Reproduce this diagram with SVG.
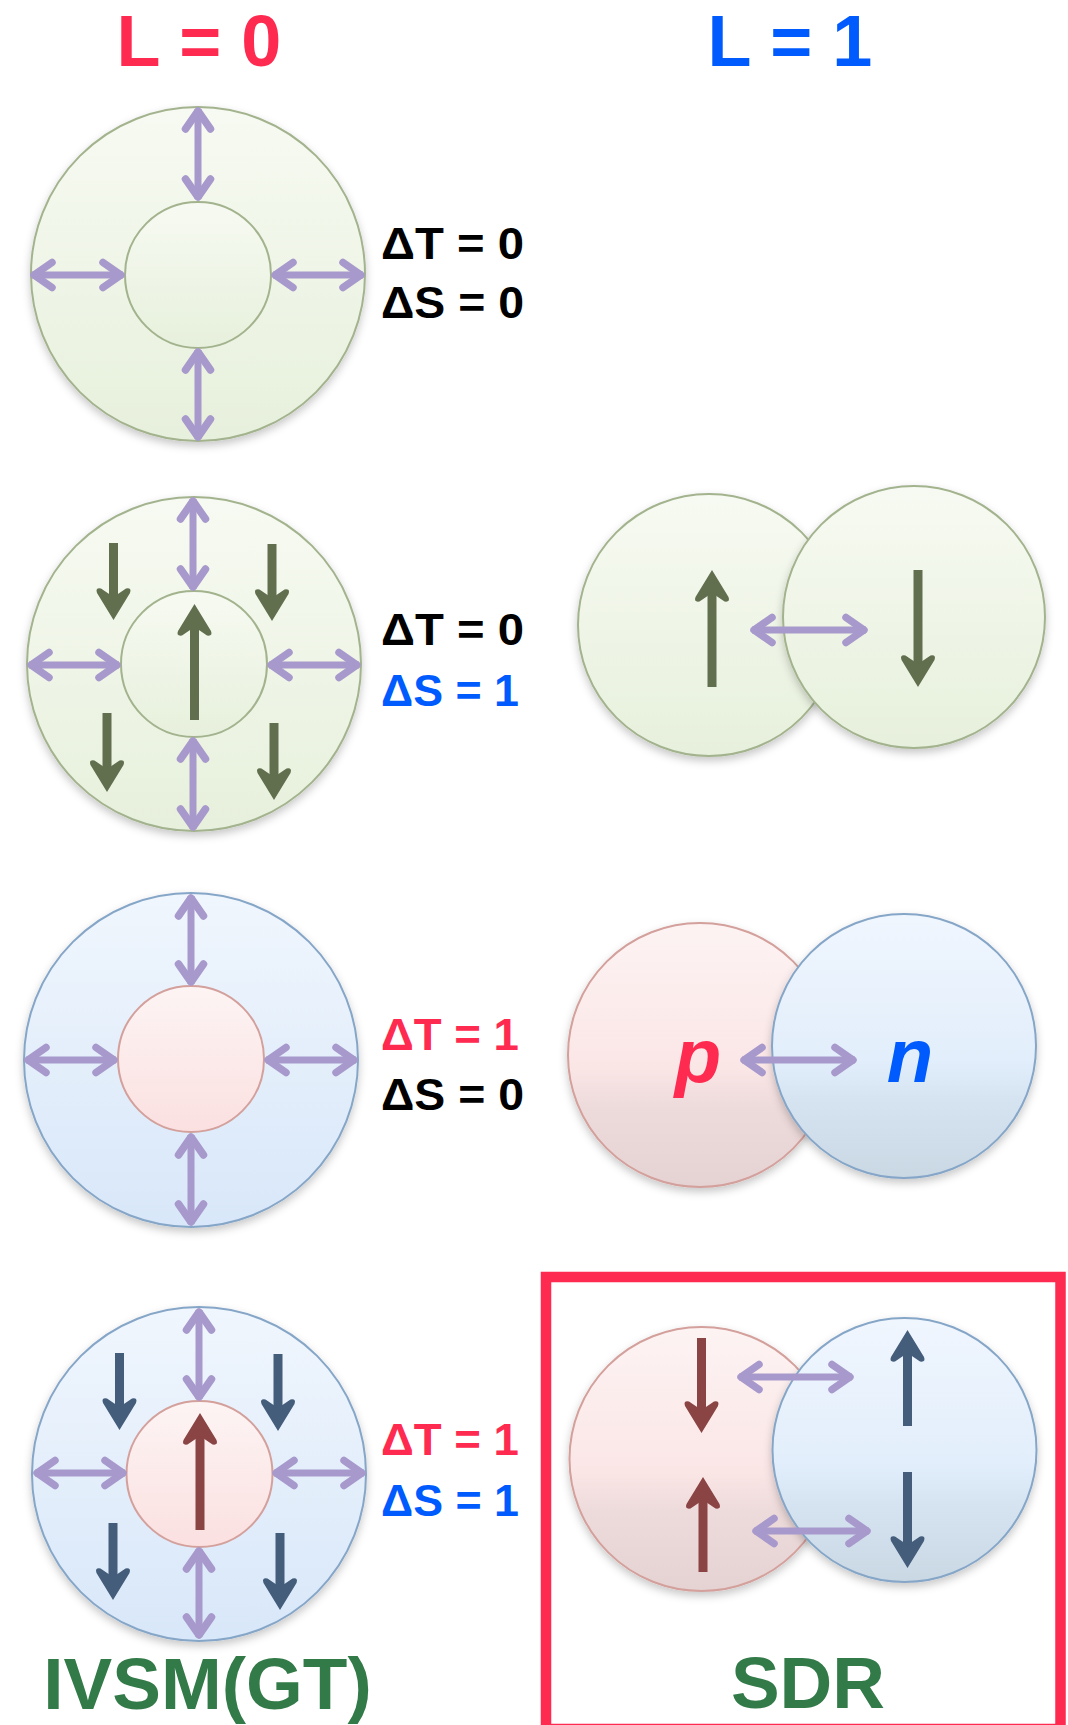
<svg xmlns="http://www.w3.org/2000/svg" xmlns:xlink="http://www.w3.org/1999/xlink" width="1068" height="1725" viewBox="0 0 1068 1725">
<style>
.hdr{font-family:"Liberation Sans",Arial,sans-serif;font-weight:bold;font-size:72px;text-anchor:middle}
.lbl{font-family:"Liberation Sans",Arial,sans-serif;font-weight:bold;font-size:45px}
.ttl{font-family:"Liberation Sans",Arial,sans-serif;font-weight:bold;font-size:73px;text-anchor:middle;fill:#327A48}
.pn{font-family:"Liberation Sans",Arial,sans-serif;font-weight:bold;font-style:italic;font-size:76px;text-anchor:middle}
.k{fill:#000}.r{fill:#FF2A50}.b{fill:#005BFF}
.green{fill:url(#gGreen);stroke:#A3B38E;stroke-width:2}
.blue{fill:url(#gBlue);stroke:#86A6C8;stroke-width:2}
.pink{fill:url(#gPink);stroke:#D3A09C;stroke-width:2}
.blue2{fill:url(#gBlue2);stroke:#86A6C8;stroke-width:2}
.pink2{fill:url(#gPink2);stroke:#D3A09C;stroke-width:2}
.sh{filter:url(#shadow)}
.pu{stroke:#A899CC;stroke-width:7;fill:none;marker-start:url(#chev);marker-end:url(#chev)}
.sg{stroke:#626F4F;stroke-width:9;fill:none}
.sb{stroke:#445D7B;stroke-width:9;fill:none}
.sr{stroke:#8A4444;stroke-width:9;fill:none}
</style>
<defs>
<linearGradient id="gGreen" x1="0" y1="0" x2="0" y2="1"><stop offset="0" stop-color="#F7FAF2"/><stop offset="1" stop-color="#E7F0DC"/></linearGradient>
<linearGradient id="gBlue" x1="0" y1="0" x2="0" y2="1"><stop offset="0" stop-color="#F0F6FD"/><stop offset="1" stop-color="#D8E7F9"/></linearGradient>
<linearGradient id="gPink" x1="0" y1="0" x2="0" y2="1"><stop offset="0" stop-color="#FDF4F4"/><stop offset="1" stop-color="#FBE0E0"/></linearGradient>
<linearGradient id="gBlue2" x1="0" y1="0" x2="0" y2="1"><stop offset="0" stop-color="#F0F6FE"/><stop offset="0.55" stop-color="#E2EEFB"/><stop offset="0.7" stop-color="#D6E4F2"/><stop offset="1" stop-color="#CAD8E4"/></linearGradient>
<linearGradient id="gPink2" x1="0" y1="0" x2="0" y2="1"><stop offset="0" stop-color="#FDF3F3"/><stop offset="0.55" stop-color="#FBE6E6"/><stop offset="0.7" stop-color="#EDDADA"/><stop offset="1" stop-color="#E5D2D2"/></linearGradient>
<filter id="shadow" x="-20%" y="-20%" width="140%" height="150%"><feDropShadow dx="0" dy="4" stdDeviation="4" flood-color="#000" flood-opacity="0.22"/></filter>
<marker id="chev" markerUnits="userSpaceOnUse" viewBox="-28 -18 32 36" refX="0" refY="0" markerWidth="32" markerHeight="36" orient="auto-start-reverse" overflow="visible">
<path d="M-20,-12.5 L-2,0 L-20,12.5" fill="none" stroke="#A899CC" stroke-width="7.5" stroke-linecap="round" stroke-linejoin="round"/>
</marker>
<path id="dh" d="M0,0 L16.5,27 Q18.5,32.5 12.5,31.5 L0,23 L-12.5,31.5 Q-18.5,32.5 -16.5,27 Z"/>
</defs>
<rect width="1068" height="1725" fill="#fff"/>

<g id="headers">
<text class="hdr r" x="199" y="66">L = 0</text>
<text class="hdr b" x="790" y="66">L = 1</text>
</g>

<g id="ivsm-t0-s0">
<circle class="green sh" cx="198" cy="274" r="167"/>
<circle class="green" cx="198" cy="275" r="73"/>
<text class="lbl k" x="381" y="259" textLength="143" lengthAdjust="spacingAndGlyphs">ΔT = 0</text>
<text class="lbl k" x="381" y="318" textLength="143" lengthAdjust="spacingAndGlyphs">ΔS = 0</text>
</g>

<g id="ivsm-t0-s1">
<circle class="green sh" cx="194" cy="664" r="167"/>
<circle class="green" cx="194" cy="664" r="73"/>
<path class="sg" d="M194.5,720 V622"/><use href="#dh" fill="#626F4F" transform="translate(194.5,604)"/>
<path class="sg" d="M113.5,543 V600"/><use href="#dh" fill="#626F4F" transform="translate(113.5,620) rotate(180)"/>
<path class="sg" d="M272,544 V601"/><use href="#dh" fill="#626F4F" transform="translate(272,621) rotate(180)"/>
<path class="sg" d="M107,713 V772"/><use href="#dh" fill="#626F4F" transform="translate(107,792) rotate(180)"/>
<path class="sg" d="M274,723 V780"/><use href="#dh" fill="#626F4F" transform="translate(274,800) rotate(180)"/>
<text class="lbl k" x="381" y="645" textLength="143" lengthAdjust="spacingAndGlyphs">ΔT = 0</text>
<text class="lbl b" x="381" y="706" textLength="138" lengthAdjust="spacingAndGlyphs">ΔS = 1</text>
</g>

<g id="ivsm-t1-s0">
<circle class="blue sh" cx="191" cy="1060" r="167"/>
<circle class="pink" cx="191" cy="1059" r="73"/>
<text class="lbl r" x="381" y="1050" textLength="138" lengthAdjust="spacingAndGlyphs">ΔT = 1</text>
<text class="lbl k" x="381" y="1110" textLength="143" lengthAdjust="spacingAndGlyphs">ΔS = 0</text>
</g>

<g id="ivsm-t1-s1">
<circle class="blue sh" cx="199" cy="1474" r="167"/>
<circle class="pink" cx="199.5" cy="1474" r="73"/>
<path class="sr" d="M200,1530 V1431"/><use href="#dh" fill="#8A4444" transform="translate(200,1413)"/>
<path class="sb" d="M119.5,1353 V1410"/><use href="#dh" fill="#445D7B" transform="translate(119.5,1430) rotate(180)"/>
<path class="sb" d="M278,1354 V1411"/><use href="#dh" fill="#445D7B" transform="translate(278,1431) rotate(180)"/>
<path class="sb" d="M113,1523 V1580"/><use href="#dh" fill="#445D7B" transform="translate(113,1600) rotate(180)"/>
<path class="sb" d="M280,1533 V1590"/><use href="#dh" fill="#445D7B" transform="translate(280,1610) rotate(180)"/>
<text class="lbl r" x="381" y="1455" textLength="138" lengthAdjust="spacingAndGlyphs">ΔT = 1</text>
<text class="lbl b" x="381" y="1516" textLength="138" lengthAdjust="spacingAndGlyphs">ΔS = 1</text>
<text class="ttl" x="207.5" y="1709">IVSM(GT)</text>
</g>

<g id="pair-s1">
<circle class="green sh" cx="709" cy="625" r="131"/>
<circle class="green sh" cx="914" cy="617" r="131"/>
<path class="sg" d="M712,687 V588"/><use href="#dh" fill="#626F4F" transform="translate(712,570)"/>
<path class="sg" d="M918,570 V669"/><use href="#dh" fill="#626F4F" transform="translate(918,687) rotate(180)"/>
</g>

<g id="pair-t1">
<circle class="pink2 sh" cx="700" cy="1055" r="132"/>
<circle class="blue2 sh" cx="904" cy="1046" r="132"/>
<text class="pn r" x="698" y="1082">p</text>
<text class="pn b" x="910" y="1082">n</text>
</g>

<g id="sdr">
<rect x="546" y="1277" width="514.5" height="452" fill="none" stroke="#FF2A50" stroke-width="10.5"/>
<circle class="pink2 sh" cx="701.5" cy="1459" r="132"/>
<circle class="blue2 sh" cx="904.5" cy="1450" r="132"/>
<path class="sr" d="M701.5,1338 V1415"/><use href="#dh" fill="#8A4444" transform="translate(701.5,1433) rotate(180)"/>
<path class="sr" d="M703,1572 V1495"/><use href="#dh" fill="#8A4444" transform="translate(703,1477)"/>
<path class="sb" d="M907.5,1426 V1348"/><use href="#dh" fill="#445D7B" transform="translate(907.5,1330)"/>
<path class="sb" d="M907.5,1472 V1550"/><use href="#dh" fill="#445D7B" transform="translate(907.5,1568) rotate(180)"/>
<text class="ttl" x="808" y="1708">SDR</text>
</g>

<g id="connectors">
<path class="pu" d="M198,109 V199"/>
<path class="pu" d="M198,350 V439"/>
<path class="pu" d="M32,275 H123"/>
<path class="pu" d="M273,275 H363"/>

<path class="pu" d="M193,499 V589"/>
<path class="pu" d="M193,739 V829"/>
<path class="pu" d="M29,665 H119"/>
<path class="pu" d="M269,665 H359"/>

<path class="pu" d="M191,896 V984"/>
<path class="pu" d="M191,1135 V1224"/>
<path class="pu" d="M26,1060 H116"/>
<path class="pu" d="M266,1060 H356"/>

<path class="pu" d="M199,1310 V1399"/>
<path class="pu" d="M199,1549 V1637"/>
<path class="pu" d="M35,1473 H125"/>
<path class="pu" d="M274,1473 H364"/>

<path class="pu" d="M752,630 H866"/>
<path class="pu" d="M742,1060 H855"/>
<path class="pu" d="M739,1377 H852"/>
<path class="pu" d="M754,1531 H869"/>
</g>
</svg>
